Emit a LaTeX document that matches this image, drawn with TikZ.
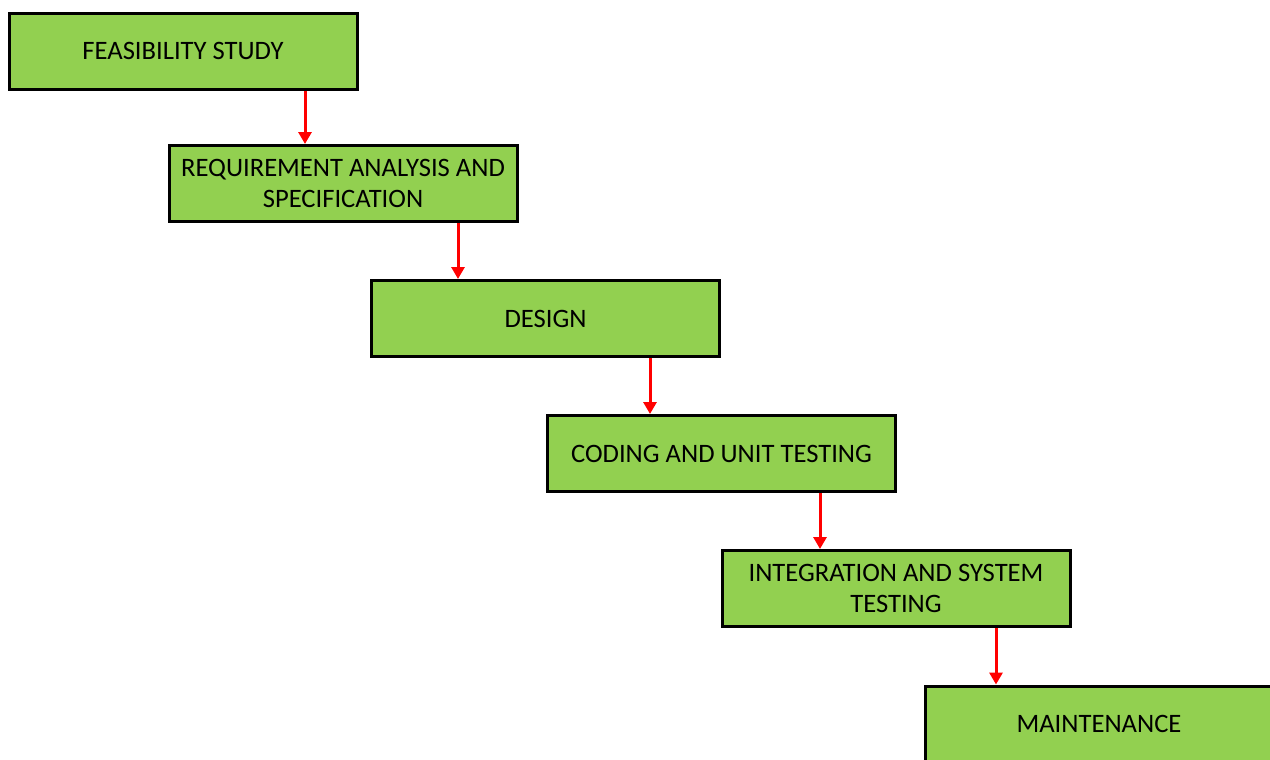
\documentclass[tikz,border=0pt]{standalone}
\usepackage{fontspec}
\setmainfont{Carlito}
\usetikzlibrary{arrows.meta}
\definecolor{boxgreen}{HTML}{92D050}
\definecolor{arrred}{HTML}{FF0000}
\begin{document}
\begin{tikzpicture}[x=0.5pt,y=-0.5pt,
  stage/.style={draw=black,line width=1.5pt,fill=boxgreen,minimum width=174pt,minimum height=38pt,
    inner sep=0pt,align=center,font=\fontsize{13.3}{15.5}\selectfont,text=black},
  flow/.style={draw=arrred,line width=1.5pt,-{Triangle[length=6pt,width=6.5pt]}}]
\useasboundingbox (0,0) rectangle (1270,760);
\begin{scope}
\clip (0,0) rectangle (1270,760);
\node[stage] (b1) at (183,51) {FEASIBILITY STUDY};
\node[stage] (b2) at (343,183.5) {REQUIREMENT ANALYSIS AND\\SPECIFICATION};
\node[stage] (b3) at (545.5,318.5) {DESIGN};
\node[stage] (b4) at (721.5,453.5) {CODING AND UNIT TESTING};
\node[stage] (b5) at (896,588.5) {INTEGRATION AND SYSTEM\\TESTING};
\node[stage] (b6) at (1099,724) {MAINTENANCE};
\end{scope}
\coordinate (a1) at (305,0);
\coordinate (a2) at (458,0);
\coordinate (a3) at (650,0);
\coordinate (a4) at (820,0);
\coordinate (a5) at (996,0);
\draw[flow] (b1.south -| a1) -- (b2.north -| a1);
\draw[flow] (b2.south -| a2) -- (b3.north -| a2);
\draw[flow] (b3.south -| a3) -- (b4.north -| a3);
\draw[flow] (b4.south -| a4) -- (b5.north -| a4);
\draw[flow] (b5.south -| a5) -- (b6.north -| a5);
\end{tikzpicture}
\end{document}
